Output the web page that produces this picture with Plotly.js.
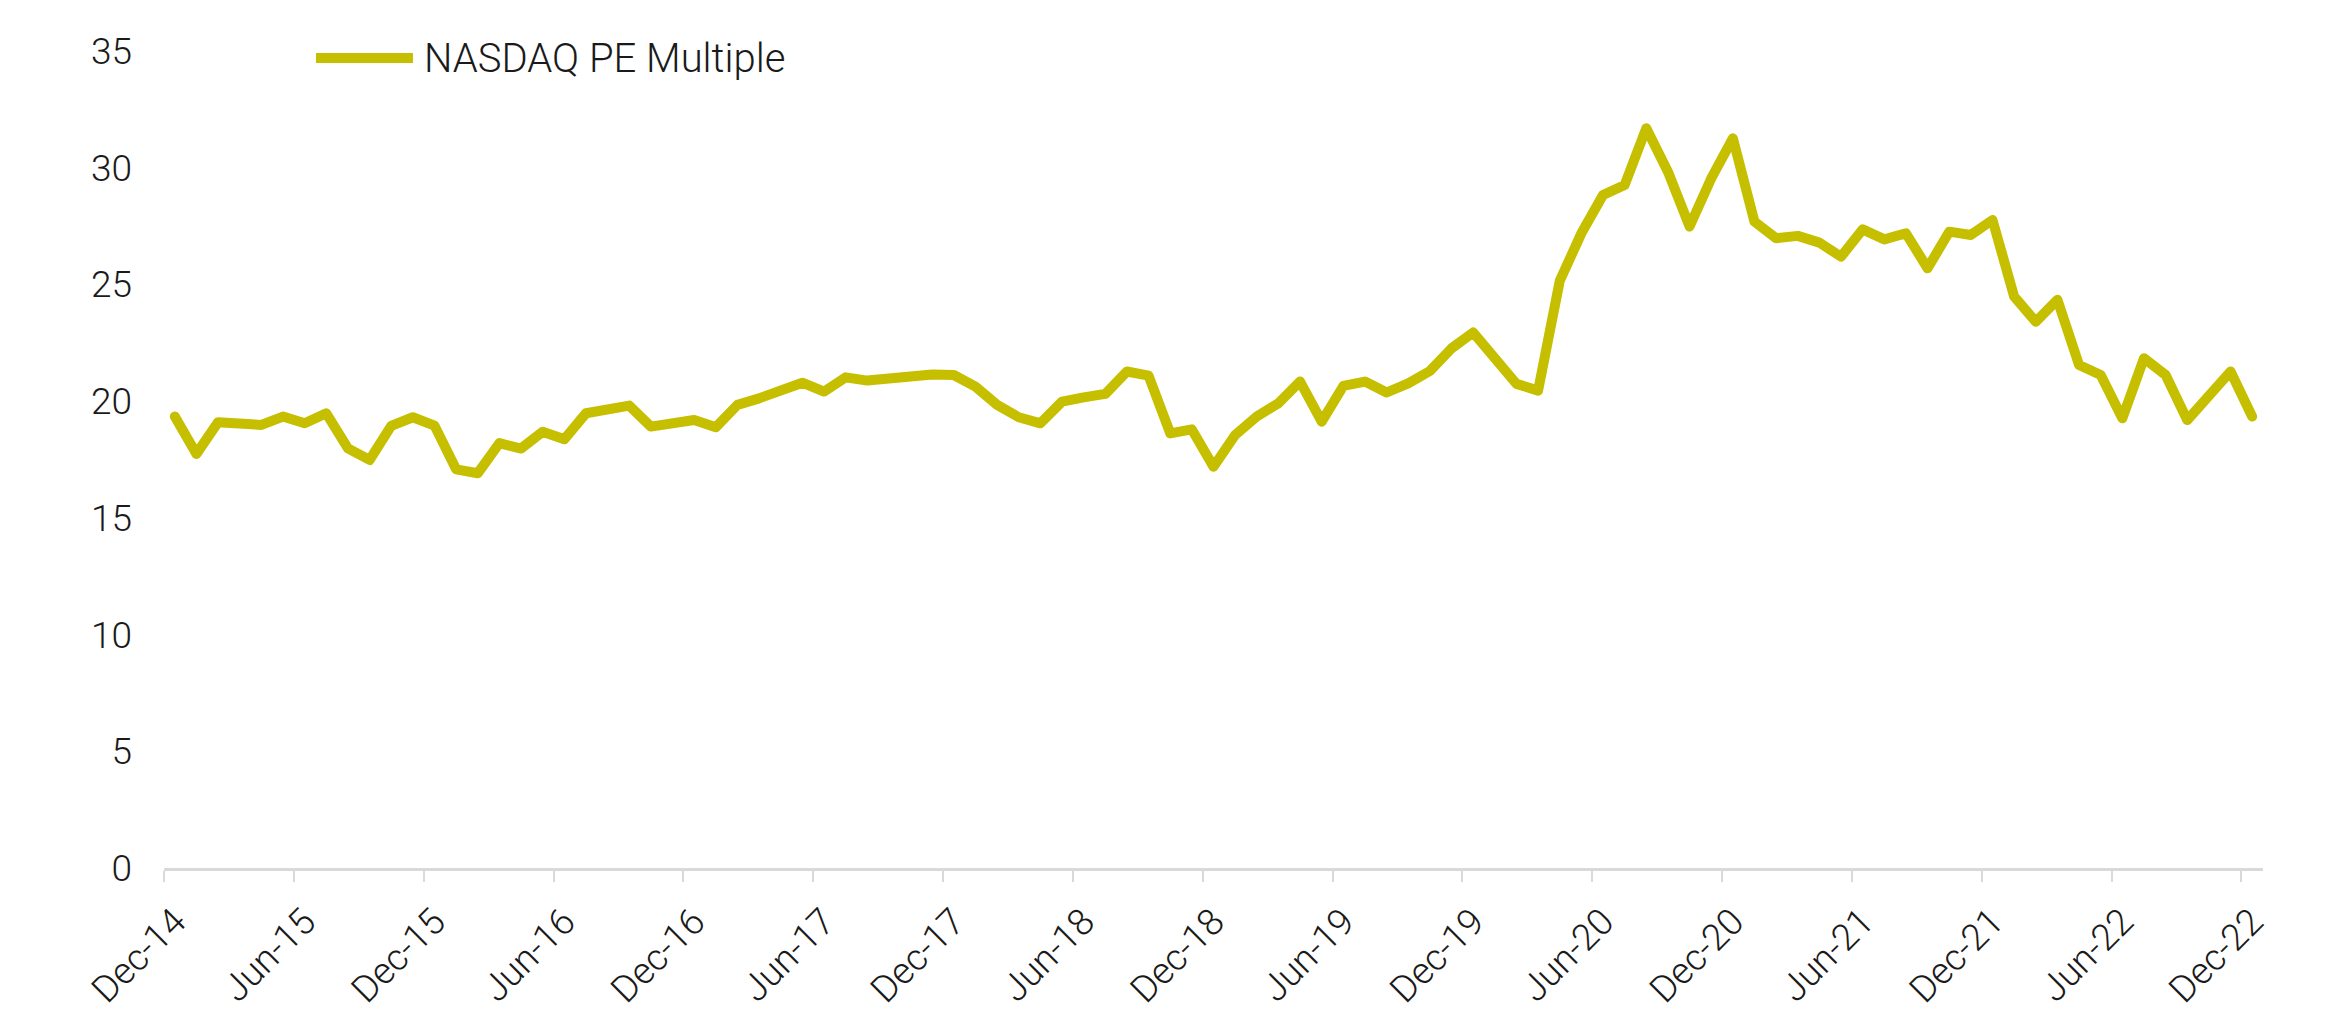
<!DOCTYPE html>
<html>
<head>
<meta charset="utf-8">
<script src="https://cdn.plot.ly/plotly-3.0.1.min.js"></script>
<style>html,body{margin:0;padding:0;background:#fff;}#chart{width:2335px;height:1031px;}
#chart .scatterlayer path.js-line{stroke-linejoin:round;stroke-linecap:round;}</style>
</head>
<body>
<div id="chart"></div>
<script>
// Monthly categories Dec-14 .. Dec-22
const monthNames = ["Jan","Feb","Mar","Apr","May","Jun","Jul","Aug","Sep","Oct","Nov","Dec"];
const categories = [];
for (let y = 2014, m = 11; y < 2022 || (y === 2022 && m <= 11); ) {
  categories.push(monthNames[m] + "-" + String(y).slice(2));
  m++; if (m > 11) { m = 0; y++; }
}

const seriesName = "NASDAQ PE Multiple";
const peValues = [
  19.34, 17.74, 19.10, 19.01, 18.98, 19.34, 19.05, 19.48, 17.98, 17.48,
  18.94, 19.31, 18.95, 17.08, 16.91, 18.20, 17.97, 18.69, 18.37, 19.48,
  19.62, 19.81, 18.91, 19.05, 19.19, 18.88, 19.84, 20.12, 20.41, 20.79,
  20.41, 21.02, 20.88, 20.98, 21.02, 21.14, 21.12, 20.62, 19.84, 19.31,
  19.05, 19.98, 20.16, 20.31, 21.27, 21.09, 18.62, 18.79, 17.19, 18.55,
  19.34, 19.91, 20.84, 19.12, 20.65, 20.84, 20.37, 20.76, 21.29, 22.26,
  22.94, 21.84, 20.74, 20.45, 25.15, 27.19, 28.83, 29.26, 31.69, 29.83,
  27.48, 29.54, 31.26, 27.69, 26.98, 27.08, 26.79, 26.19, 27.36, 26.93,
  27.19, 25.69, 27.26, 27.12, 27.76, 24.48, 23.40, 24.34, 21.55, 21.12,
  19.27, 21.84, 21.12, 19.19, 20.19, 21.27, 19.34
];

const yTicks = [0, 5, 10, 15, 20, 25, 30, 35];
const labelStep = 6;

const xIdx = categories.map((_, i) => i);
const tickIdx = xIdx.filter(i => i % labelStep === 0);
const tickText = tickIdx.map(i => categories[i]);

const lineColor = "#C5BF00";
const textColor = "#1a1a1a";
const fontFam = "Roboto, 'Open Sans', sans-serif";

const trace = {
  x: xIdx,
  y: peValues,
  type: "scatter",
  mode: "lines",
  name: seriesName,
  line: { color: lineColor, width: 10 },
  hoverinfo: "skip",
  showlegend: false
};

const layout = {
  width: 2335,
  height: 1031,
  margin: { l: 164, r: 72, t: 51, b: 163 },
  paper_bgcolor: "#ffffff",
  plot_bgcolor: "#ffffff",
  font: { family: fontFam, color: textColor, size: 36, weight: 300 },
  showlegend: false,
  xaxis: {
    range: [-0.5, categories.length - 0.5],
    tickmode: "array",
    tickvals: tickIdx,
    ticktext: tickText,
    tickangle: -45,
    ticks: "",
    showgrid: false,
    zeroline: false,
    showline: true,
    linecolor: "#D9D9D9",
    linewidth: 3,
    tickfont: { family: fontFam, size: 37, color: textColor, weight: 300 },
    ticklabelstandoff: 14,
    minor: {
      tick0: -0.5,
      dtick: labelStep,
      ticks: "outside",
      ticklen: 11,
      tickwidth: 2,
      tickcolor: "#D9D9D9",
      showgrid: false
    },
    fixedrange: true
  },
  yaxis: {
    range: [0, 35],
    tickmode: "array",
    tickvals: yTicks,
    ticktext: yTicks.map(String),
    ticks: "",
    showgrid: false,
    zeroline: false,
    showline: false,
    tickfont: { family: fontFam, size: 37, color: textColor, weight: 300 },
    ticklabelstandoff: 31,
    fixedrange: true
  },
  shapes: [{
    type: "line",
    xref: "paper", yref: "paper",
    x0: 0.0724, x1: 0.1186, y0: 0.9914, y1: 0.9914,
    line: { color: lineColor, width: 10 }
  }],
  annotations: [{
    xref: "paper", yref: "paper",
    x: 0.1229, y: 0.9914,
    xanchor: "left", yanchor: "middle",
    text: seriesName,
    showarrow: false,
    font: { family: fontFam, size: 40, color: textColor, weight: 300 }
  }]
};

Plotly.newPlot("chart", [trace], layout, { staticPlot: true, displayModeBar: false });
</script>
</body>
</html>
